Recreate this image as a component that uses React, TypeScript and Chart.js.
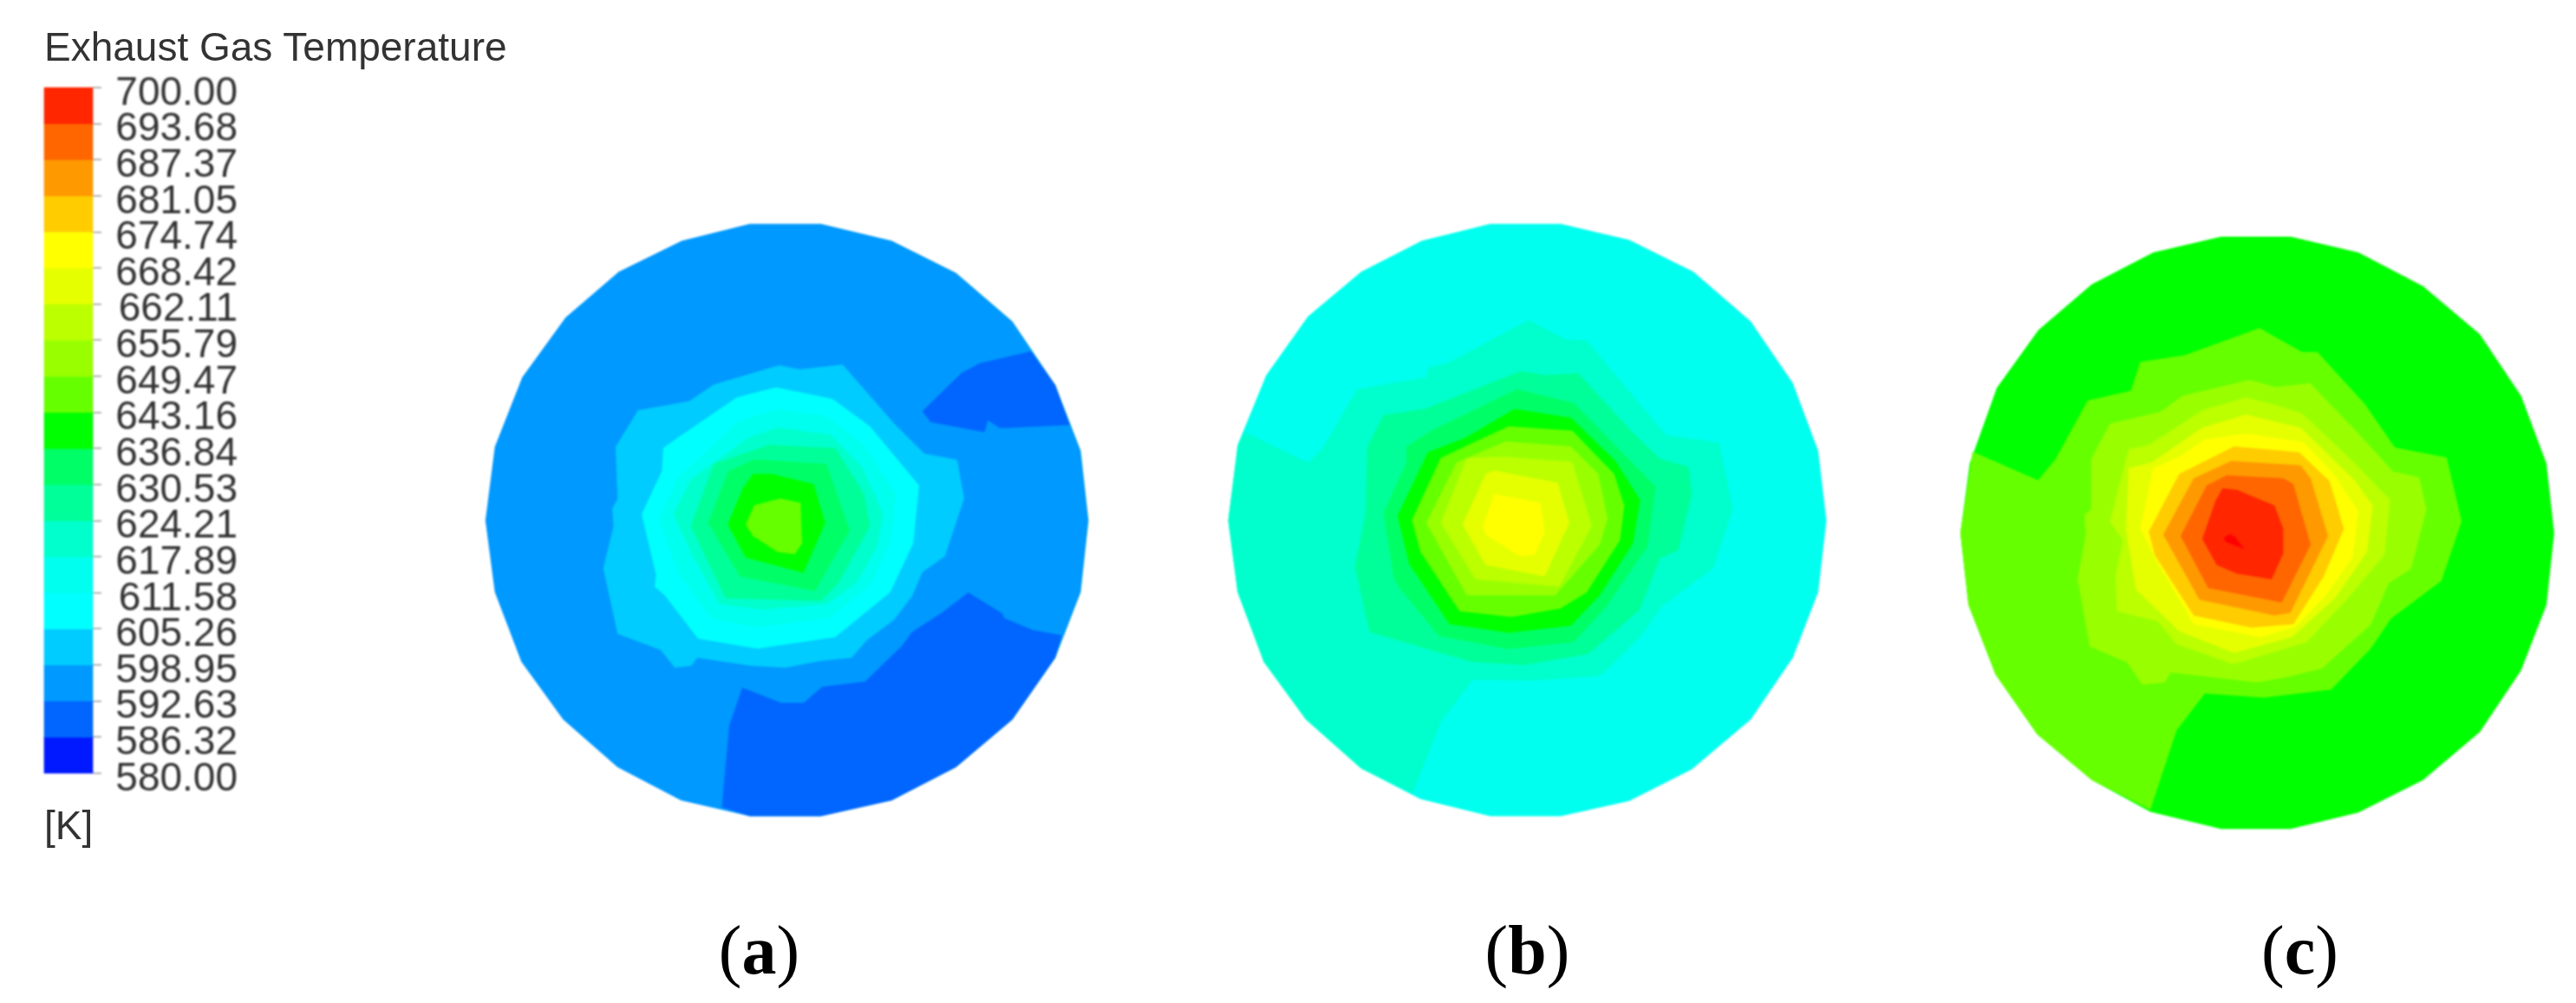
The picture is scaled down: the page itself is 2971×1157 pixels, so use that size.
import React, { useEffect, useRef } from "react";
import { Chart, registerables } from "chart.js";

Chart.register(...registerables);

const W = 2971;
const H = 1157;

// ---- colour scale
const tempLevels = [580.0, 586.32, 592.63, 598.95, 605.26, 611.58, 617.89, 624.21, 630.53, 636.84, 643.16, 649.47, 655.79, 662.11, 668.42, 674.74, 681.05, 687.37, 693.68, 700.0];
const bandColors = ["#0019ff", "#0066ff", "#0099ff", "#00ccff", "#00ffff", "#00ffee", "#00ffcc", "#00ff99", "#00ff66", "#00ff00", "#66ff00", "#99ff00", "#bbff00", "#e5ff00", "#ffff00", "#ffcc00", "#ff9900", "#ff6600", "#ff2600"];

type P = [number, number];

// ---- panel (a)
const aOutline: P[] = [[688,40],[862,40],[1035,82],[1192,163],[1330,285],[1435,445],[1497,610],[1516,785],[1497,965],[1435,1130],[1330,1285],[1192,1405],[1035,1488],[862,1528],[688,1528],[520,1488],[365,1405],[232,1285],[130,1140],[65,965],[42,785],[65,600],[132,425],[238,275],[368,160],[522,82]];
const aLowerBlue: P[] = [[620,1505],[688,1528],[862,1528],[1035,1488],[1192,1405],[1330,1285],[1435,1130],[1450,1073],[1380,1060],[1310,1030],[1305,1018],[1222,966],[1160,1015],[1085,1065],[1060,1100],[970,1190],[865,1203],[820,1243],[765,1243],[670,1205],[638,1300],[628,1410]];
const aUpperBlue: P[] = [[1375,360],[1435,445],[1470,545],[1300,553],[1270,533],[1262,563],[1130,538],[1110,510],[1205,415],[1250,390]];
const aSky: P[] = [[415,508],[540,485],[600,443],[760,395],[810,405],[915,393],[1040,540],[1115,617],[1195,632],[1212,730],[1165,875],[1110,915],[1085,975],[1040,1035],[975,1085],[937,1130],[860,1138],[775,1155],[690,1150],[560,1130],[545,1150],[505,1155],[470,1110],[365,1070],[330,905],[355,800],[352,755],[365,730],[360,600]];
const aCyan: P[] = [[465,50],[660,90],[790,185],[960,390],[940,590],[860,760],[670,915],[400,955],[195,920],[80,770],[45,740],[50,700],[0,490],[70,340],[75,260],[110,235],[330,85]];
const aAqua: P[] = [[470,126],[640,150],[770,250],[880,420],[860,590],[790,735],[650,850],[400,880],[240,850],[130,700],[60,510],[120,370],[330,170]];
const aTeal: P[] = [[470,190],[655,215],[765,330],[835,490],[815,600],[745,725],[640,800],[420,820],[270,800],[180,640],[110,490],[170,370],[370,225]];
const aSpring: P[] = [[250,315],[440,250],[670,260],[770,420],[790,530],[680,730],[620,790],[290,780],[170,530]];
const aMint: P[] = [[300,340],[390,300],[640,315],[720,545],[600,755],[340,705],[230,520]];
const aGreen: P[] = [[385,350],[450,350],[595,385],[635,520],[560,692],[360,640],[298,525],[350,400]];
const aCore: P[] = [[390,458],[480,435],[550,450],[555,590],[530,628],[470,620],[385,565],[360,525]];

// ---- panel (b)
const bOutline: P[] = [[675,40],[848,40],[1015,80],[1172,160],[1312,285],[1415,440],[1477,610],[1497,785],[1477,965],[1415,1130],[1312,1285],[1168,1410],[1015,1490],[848,1528],[675,1528],[505,1485],[360,1408],[225,1285],[122,1140],[58,965],[35,785],[58,595],[128,420],[230,272],[360,160],[508,82]];
const bTeal: P[] = [[75,563],[230,640],[265,605],[350,455],[520,425],[525,400],[570,390],[770,282],[860,330],[910,332],[1105,570],[1235,590],[1268,755],[1220,905],[1095,1000],[1040,1080],[945,1175],[780,1187],[632,1185],[555,1290],[485,1470],[360,1408],[225,1285],[122,1140],[58,965],[35,785],[58,600]];
const bSpring: P[] = [[375,600],[415,520],[515,505],[750,410],[810,420],[890,415],[1020,560],[1090,630],[1160,650],[1168,720],[1135,860],[1090,880],[1040,1010],[915,1120],[760,1148],[630,1140],[380,1065],[345,900],[370,770]];
const bMint: P[] = [[470,600],[530,560],[740,455],[880,490],[1080,700],[1060,850],[960,1000],[880,1090],[720,1108],[550,1075],[450,950],[440,930],[415,765],[470,640]];
const bGreen: P[] = [[500,365],[695,395],[850,545],[935,680],[910,830],[795,1010],[695,1115],[480,1140],[275,1110],[135,900],[95,735],[200,515],[330,465]];
const bLime1: P[] = [[480,425],[700,440],[845,590],[880,700],[865,820],[750,1000],[660,1055],[490,1085],[310,1065],[175,860],[145,750],[245,535],[340,490]];
const bLime2: P[] = [[300,550],[470,478],[695,495],[790,590],[822,745],[795,835],[640,1010],[335,1010],[195,760]];
const bLime3: P[] = [[335,535],[460,530],[700,548],[768,770],[655,980],[365,955],[245,760]];
const bLime4: P[] = [[400,590],[430,578],[650,620],[690,760],[605,945],[400,905],[320,765]];
const bYellow: P[] = [[430,660],[590,690],[605,790],[570,870],[520,875],[400,800],[390,770]];

// ---- panel (c)
const cOutline: P[] = [[690,50],[862,50],[1030,90],[1190,175],[1330,295],[1432,450],[1495,620],[1514,795],[1495,975],[1432,1140],[1330,1295],[1190,1415],[1030,1497],[862,1538],[690,1538],[515,1495],[370,1415],[235,1300],[132,1150],[65,975],[45,795],[68,620],[135,430],[238,285],[370,170],[522,90]];
const cLime1: P[] = [[75,590],[237,662],[280,610],[360,462],[467,437],[490,365],[600,348],[785,280],[890,340],[928,340],[1045,470],[1120,580],[1248,605],[1285,765],[1235,915],[1110,1010],[1060,1085],[962,1188],[795,1208],[650,1198],[580,1290],[515,1490],[370,1415],[235,1300],[132,1150],[65,975],[45,795]];
const cLime2: P[] = [[415,520],[540,490],[595,450],[760,410],[825,428],[910,418],[1030,545],[1115,640],[1180,655],[1198,735],[1160,885],[1105,920],[1060,1025],[940,1135],[860,1155],[780,1170],[565,1145],[550,1170],[495,1175],[458,1120],[365,1080],[335,910],[355,800],[352,750],[368,735],[368,610]];
const cLime3: P[] = [[40,695],[105,445],[175,430],[360,310],[510,265],[610,290],[705,320],[885,490],[1010,620],[990,810],[860,965],[720,1113],[467,1189],[271,1120],[205,1040],[65,1005],[60,880],[85,760]];
const cLime4: P[] = [[95,720],[105,510],[185,490],[360,370],[510,325],[700,370],[890,555],[950,640],[930,800],[820,960],[670,1095],[470,1150],[280,1075],[130,930]];
const cYellow: P[] = [[145,720],[190,510],[280,470],[370,410],[510,390],[710,420],[815,530],[900,660],[880,820],[780,960],[680,1060],[560,1095],[330,1050],[200,830]];
const cAmber: P[] = [[175,730],[280,530],[470,435],[695,455],[800,555],[850,720],[780,885],[675,1050],[530,1062],[330,1020],[195,810]];
const cOrange: P[] = [[225,740],[330,545],[460,485],[700,500],[735,545],[795,745],[665,1010],[610,1020],[350,965]];
const cDeep: P[] = [[285,745],[375,570],[445,535],[640,545],[675,565],[735,775],[635,975],[380,925]];
const cRed: P[] = [[360,755],[405,625],[430,580],[480,585],[610,640],[640,720],[640,805],[600,895],[480,875],[410,845]];
const cPeak: P[] = [[435,750],[455,738],[475,750],[505,790],[440,765]];

const panelLabels = [
  { letter: "a", left: 828, width: 95 },
  { letter: "b", left: 1711, width: 101 },
  { letter: "c", left: 2608, width: 89 },
];

// Each frame is a pair of read-off axes for the polygons.
const frames: Record<string, { ox: number; oy: number; sx: number; sy: number }> = {
  A: { ox: 540, oy: 240, sx: 2.119, sy: 2.178 },
  Ai: { ox: 740, oy: 430, sx: 3, sy: 3 },
  B: { ox: 1400, oy: 240, sx: 2.119, sy: 2.178 },
  Bi: { ox: 1580, oy: 350, sx: 3, sy: 3 },
  C: { ox: 2240, oy: 250, sx: 2.145, sy: 2.178 },
  Ci: { ox: 2420, oy: 370, sx: 3, sy: 3 },
};

const layers: { pts: P[]; color: string; frame: string }[] = [
  { pts: aOutline, color: "#0099ff", frame: "A" },
  { pts: aLowerBlue, color: "#0066ff", frame: "A" },
  { pts: aUpperBlue, color: "#0066ff", frame: "A" },
  { pts: aSky, color: "#00ccff", frame: "A" },
  { pts: aCyan, color: "#00ffff", frame: "Ai" },
  { pts: aAqua, color: "#00ffee", frame: "Ai" },
  { pts: aTeal, color: "#00ffcc", frame: "Ai" },
  { pts: aSpring, color: "#00ff99", frame: "Ai" },
  { pts: aMint, color: "#00ff66", frame: "Ai" },
  { pts: aGreen, color: "#00ff00", frame: "Ai" },
  { pts: aCore, color: "#66ff00", frame: "Ai" },

  { pts: bOutline, color: "#00ffee", frame: "B" },
  { pts: bTeal, color: "#00ffcc", frame: "B" },
  { pts: bSpring, color: "#00ff99", frame: "B" },
  { pts: bMint, color: "#00ff66", frame: "B" },
  { pts: bGreen, color: "#00ff00", frame: "Bi" },
  { pts: bLime1, color: "#66ff00", frame: "Bi" },
  { pts: bLime2, color: "#99ff00", frame: "Bi" },
  { pts: bLime3, color: "#bbff00", frame: "Bi" },
  { pts: bLime4, color: "#e5ff00", frame: "Bi" },
  { pts: bYellow, color: "#ffff00", frame: "Bi" },

  { pts: cOutline, color: "#00ff00", frame: "C" },
  { pts: cLime1, color: "#66ff00", frame: "C" },
  { pts: cLime2, color: "#99ff00", frame: "C" },
  { pts: cLime3, color: "#bbff00", frame: "Ci" },
  { pts: cLime4, color: "#e5ff00", frame: "Ci" },
  { pts: cYellow, color: "#ffff00", frame: "Ci" },
  { pts: cAmber, color: "#ffcc00", frame: "Ci" },
  { pts: cOrange, color: "#ff9900", frame: "Ci" },
  { pts: cDeep, color: "#ff6600", frame: "Ci" },
  { pts: cRed, color: "#ff2600", frame: "Ci" },
  { pts: cPeak, color: "#ff0000", frame: "Ci" },
];

const BAR_TOP = 101;
const BAR_BOTTOM = 892;
const LABEL_SHIFT = 7;
const k = (700 - 580) / (BAR_BOTTOM - BAR_TOP);

export default function App() {
  const ref = useRef<HTMLCanvasElement>(null);
  useEffect(() => {
    const scales: any = {};
    for (const [id, f] of Object.entries(frames)) {
      scales["x" + id] = { type: "linear", display: false, min: -f.ox * f.sx, max: (W - f.ox) * f.sx };
      scales["y" + id] = { type: "linear", display: false, reverse: true, min: -f.oy * f.sy, max: (H - f.oy) * f.sy };
    }
    scales.xBar = { type: "linear", display: false, offset: false, min: 0, max: W };
    const setTicks = (s: any) => {
      s.ticks = tempLevels.map((value) => ({ value }));
    };
    const noPad = (s: any) => {
      s.paddingTop = 0;
      s.paddingBottom = 0;
      s.paddingLeft = 0;
      s.paddingRight = 0;
    };
    scales.yBar = {
      type: "linear",
      axis: "y",
      position: { xBar: 117 },
      min: 580 - (H - BAR_BOTTOM) * k,
      max: 700 + BAR_TOP * k,
      afterBuildTicks: setTicks,
      afterFit: noPad,
      border: { display: false },
      grid: { drawOnChartArea: false, drawTicks: true, tickLength: 10, color: "#b5b5b5", lineWidth: 2 },
      ticks: { display: false, autoSkip: false },
    };
    scales.yLabel = {
      type: "linear",
      axis: "y",
      position: { xBar: 274 },
      min: 580 - (H - BAR_BOTTOM - LABEL_SHIFT) * k,
      max: 700 + (BAR_TOP + LABEL_SHIFT) * k,
      afterBuildTicks: setTicks,
      afterFit: noPad,
      border: { display: false },
      grid: { display: false, drawTicks: false },
      ticks: {
        autoSkip: false,
        padding: 0,
        color: "#333333",
        font: { family: "Liberation Sans", size: 46 },
        callback: (v: any) => Number(v).toFixed(2),
      },
    };

    const datasets: any[] = [
      {
        type: "bar",
        data: bandColors.map((_, i) => ({ x: 79, y: [tempLevels[i], tempLevels[i + 1]] })),
        xAxisID: "xBar",
        yAxisID: "yBar",
        backgroundColor: bandColors,
        borderWidth: 0,
        barThickness: 56,
        grouped: false,
        order: layers.length + 1,
      },
      // An empty dataset keeps the label axis in use.
      { type: "scatter", data: [], xAxisID: "xBar", yAxisID: "yLabel" },
      ...layers.map((l, i) => ({
        type: "scatter",
        data: l.pts.map(([x, y]) => ({ x, y })),
        xAxisID: "x" + l.frame,
        yAxisID: "y" + l.frame,
        showLine: true,
        fill: "shape",
        backgroundColor: l.color,
        borderColor: l.color,
        borderWidth: 0,
        pointRadius: 0,
        tension: 0,
        order: layers.length - i,
      })),
    ];

    const chart = new Chart(ref.current as HTMLCanvasElement, {
      type: "scatter",
      data: { datasets },
      options: {
        animation: false,
        responsive: false,
        events: [],
        layout: { padding: 0 },
        plugins: { legend: { display: false }, tooltip: { enabled: false }, title: { display: false } },
        scales,
      } as any,
    });
    return () => chart.destroy();
  }, []);

  const sans = "'Liberation Sans', sans-serif";
  return (
    <div style={{ position: "absolute", left: 0, top: 0, width: W, height: H, overflow: "hidden", background: "#fff" }}>
      <canvas ref={ref} width={W} height={H} style={{ position: "absolute", left: 0, top: 0, width: W, height: H, filter: "blur(1px)" }} />
      <div style={{ position: "absolute", left: 51, top: 28, font: `46px/52px ${sans}`, color: "#333333", whiteSpace: "nowrap", filter: "blur(0.7px)" }}>
        Exhaust Gas Temperature
      </div>
      <div style={{ position: "absolute", left: 51, top: 926, font: `46px/52px ${sans}`, color: "#333333", whiteSpace: "nowrap", filter: "blur(0.7px)" }}>
        [K]
      </div>
      {panelLabels.map((p) => (
        <div key={p.letter} style={{ position: "absolute", left: p.left, top: 1050, width: p.width, textAlign: "center", font: "80px/92px 'Liberation Serif', serif", color: "#000" }}>
          (<b>{p.letter}</b>)
        </div>
      ))}
    </div>
  );
}
